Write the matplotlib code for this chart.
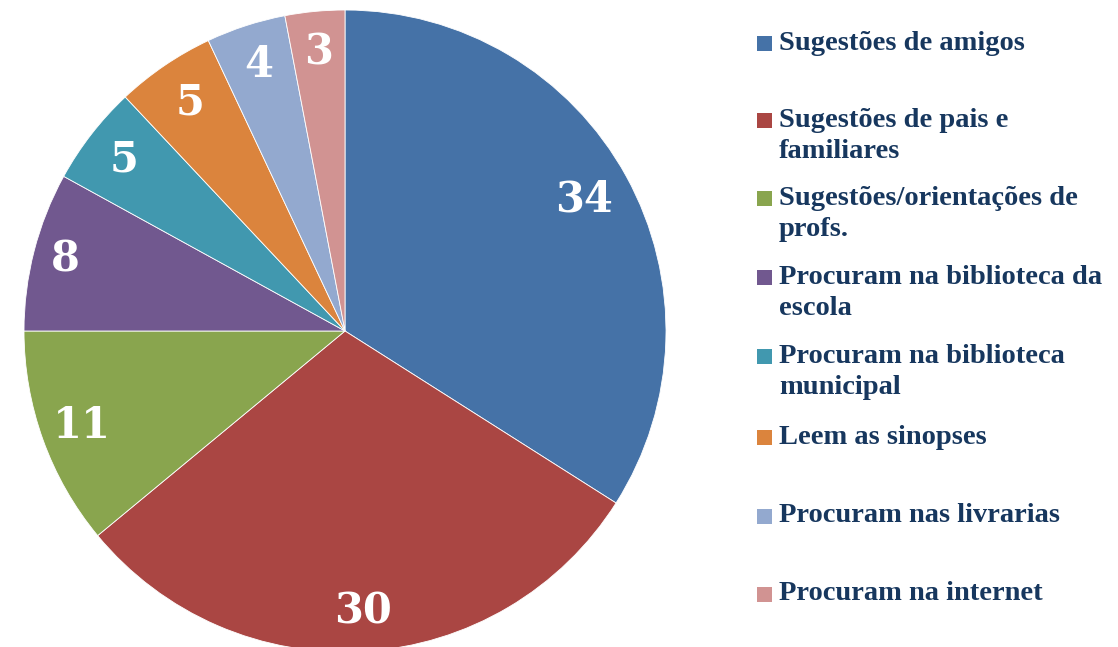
import matplotlib
matplotlib.use("Agg")
import matplotlib.pyplot as plt
import numpy as np
from matplotlib.patches import Rectangle

categories = ["Sugestões de amigos", "Sugestões de pais e\nfamiliares",
              "Sugestões/orientações de\nprofs.", "Procuram na biblioteca da\nescola",
              "Procuram na biblioteca\nmunicipal", "Leem as sinopses",
              "Procuram nas livrarias", "Procuram na internet"]
values = [34, 30, 11, 8, 5, 5, 4, 3]
colors = ["#4572A7", "#AA4643", "#89A54E", "#71588F", "#4198AF", "#DB843D", "#93A9CF", "#D19392"]
label_dist = [0.85, 0.875, 0.87, 0.90, 0.87, 0.86, 0.87, 0.87]
legend_y = [43, 136, 214, 293, 372, 437, 516, 594]  # pixel centers of legend entries

W, H = 1118, 647
fig = plt.figure(figsize=(W / 100, H / 100), dpi=100)
cx, cy, R = 345, 331, 321
ax = fig.add_axes([(cx - R) / W, (H - cy - R) / H, 2 * R / W, 2 * R / H])
wedges, _ = ax.pie(values, colors=colors, startangle=90, counterclock=False, radius=1,
                   wedgeprops=dict(edgecolor="white", linewidth=0.6))
for w, v, d in zip(wedges, values, label_dist):
    ang = np.deg2rad((w.theta1 + w.theta2) / 2)
    ax.text(d * np.cos(ang), d * np.sin(ang), str(v), ha="center", va="center",
            fontsize=30, fontweight="bold", color="white", family="DejaVu Serif")
ax.set_xlim(-1, 1); ax.set_ylim(-1, 1)
ax.set_aspect("equal")
ax.axis("off")

txtcol = "#17375E"
for lab, col, y in zip(categories, colors, legend_y):
    nlines = lab.count("\n") + 1
    y_first = y - (nlines - 1) * 16
    fig.patches.append(Rectangle((757 / W, (H - y_first - 8) / H), 15 / W, 15 / H,
                                 transform=fig.transFigure, facecolor=col, edgecolor="none"))
    fig.text(779 / W, (H - y) / H, lab, ha="left", va="center", fontsize=20.5,
             fontweight="bold", color=txtcol, family="Liberation Serif", linespacing=1.28)

fig.savefig("out.png", dpi=100)
